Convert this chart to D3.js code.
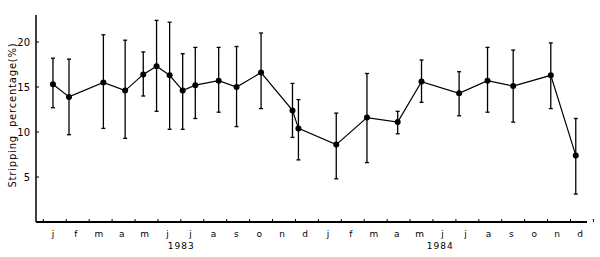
<!DOCTYPE html>
<html>
<head>
<meta charset="utf-8">
<script src="https://cdn.jsdelivr.net/npm/d3@7"></script>
<style>
  body { margin: 0; background: #fff; }
  svg { display: block; font-family: "DejaVu Sans", sans-serif; }
</style>
</head>
<body>
<div id="chart"></div>
<script>
// x position in months since january 1983 (0 = jan 83)
const monthPos = [0, 0.7, 2.2, 3.15, 3.94, 4.52, 5.09, 5.66, 6.21, 7.23, 8.01, 9.08,
    10.45, 10.71, 12.36, 13.7, 15.04, 16.08, 17.72, 18.96, 20.08, 21.72, 22.81];
const meanVals = [15.3, 13.9, 15.5, 14.6, 16.4, 17.3, 16.3, 14.6, 15.2, 15.7, 15.0, 16.6,
    12.4, 10.4, 8.6, 11.6, 11.1, 15.6, 14.3, 15.7, 15.1, 16.3, 7.4];
const upperVals = [18.2, 18.1, 20.8, 20.2, 18.9, 22.4, 22.2, 18.7, 19.4, 19.4, 19.5, 21.0,
    15.4, 13.6, 12.1, 16.5, 12.3, 18.0, 16.7, 19.4, 19.1, 19.9, 11.5];
const lowerVals = [12.7, 9.7, 10.4, 9.3, 14.0, 12.3, 10.3, 10.3, 11.5, 12.2, 10.6, 12.6,
    9.4, 6.9, 4.8, 6.6, 9.8, 13.3, 11.8, 12.2, 11.1, 12.6, 3.1];

const monthLabels = ["j", "f", "m", "a", "m", "j", "j", "a", "s", "o", "n", "d",
    "j", "f", "m", "a", "m", "j", "j", "a", "s", "o", "n", "d"];
const yearLabels = [{ year: "1983", at: 5.6 }, { year: "1984", at: 16.9 }];
const yTicks = [5, 10, 15, 20];

const width = 600, height = 257;
const svg = d3.select("#chart").append("svg")
    .attr("width", width).attr("height", height);

const x = d3.scaleLinear().domain([-0.74, 23.3]).range([36, 587]);
const y = d3.scaleLinear().domain([0, 23]).range([222, 15]);

// axes
svg.append("line")
    .attr("x1", x(-0.74)).attr("x2", x(-0.74))
    .attr("y1", y(23)).attr("y2", y(0))
    .attr("stroke", "#000").attr("stroke-width", 1.5);
svg.append("line")
    .attr("x1", x(-0.74)).attr("x2", x(23.3))
    .attr("y1", y(0)).attr("y2", y(0))
    .attr("stroke", "#000").attr("stroke-width", 2);

// y ticks point inward
svg.append("g").selectAll("line")
    .data(yTicks).enter().append("line")
    .attr("x1", x(-0.74)).attr("x2", x(-0.74) + 3)
    .attr("y1", d => y(d)).attr("y2", d => y(d))
    .attr("stroke", "#000");
svg.append("g").selectAll("text")
    .data(yTicks).enter().append("text")
    .attr("x", x(-0.74) - 6).attr("y", d => y(d) + 3.5)
    .attr("text-anchor", "end")
    .attr("font-size", 10)
    .text(d => d);

// x ticks between months, pointing up
const xTicks = d3.range(0, 25).map(k => k - 0.42);
svg.append("g").selectAll("line")
    .data(xTicks).enter().append("line")
    .attr("x1", d => x(d)).attr("x2", d => x(d))
    .attr("y1", y(0)).attr("y2", y(0) - 3)
    .attr("stroke", "#000");

svg.append("g").selectAll("text")
    .data(monthLabels).enter().append("text")
    .attr("x", (d, i) => x(i)).attr("y", 237)
    .attr("text-anchor", "middle")
    .attr("font-size", 9)
    .text(d => d);

svg.append("g").selectAll("text")
    .data(yearLabels).enter().append("text")
    .attr("x", d => x(d.at)).attr("y", 249)
    .attr("text-anchor", "middle")
    .attr("font-size", 9)
    .attr("letter-spacing", 1)
    .text(d => d.year);

svg.append("text")
    .attr("transform", `translate(16,${115}) rotate(-90)`)
    .attr("text-anchor", "middle")
    .attr("font-size", 10)
    .attr("letter-spacing", 0.8)
    .attr("xml:space", "preserve")
    .text("Stripping  percentage(%)");

// error bars
const rows = monthPos.map((m, i) => ({ m, v: meanVals[i], hi: upperVals[i], lo: lowerVals[i] }));
const bars = svg.append("g").attr("stroke", "#000").attr("stroke-width", 1.3);
rows.forEach(d => {
    bars.append("line").attr("x1", x(d.m)).attr("x2", x(d.m)).attr("y1", y(d.hi)).attr("y2", y(d.lo));
    bars.append("line").attr("x1", x(d.m) - 2).attr("x2", x(d.m) + 2).attr("y1", y(d.hi)).attr("y2", y(d.hi));
    bars.append("line").attr("x1", x(d.m) - 2).attr("x2", x(d.m) + 2).attr("y1", y(d.lo)).attr("y2", y(d.lo));
});

const line = d3.line().x(d => x(d.m)).y(d => y(d.v));
svg.append("path").datum(rows)
    .attr("d", line)
    .attr("fill", "none")
    .attr("stroke", "#000")
    .attr("stroke-width", 1.2);

svg.append("g").selectAll("circle")
    .data(rows).enter().append("circle")
    .attr("cx", d => x(d.m)).attr("cy", d => y(d.v))
    .attr("r", 3)
    .attr("fill", "#000");
</script>
</body>
</html>
